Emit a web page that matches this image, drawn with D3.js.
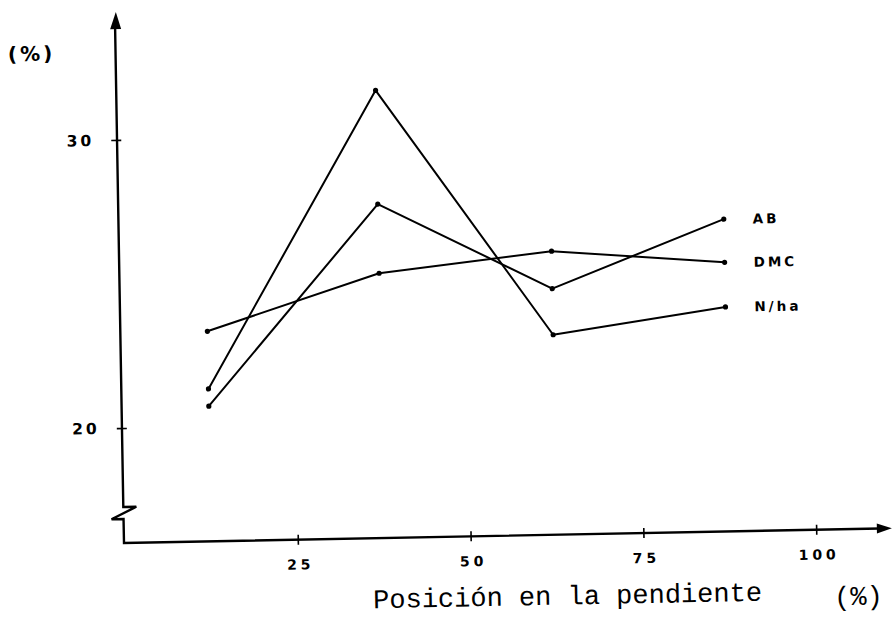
<!DOCTYPE html>
<html>
<head>
<meta charset="utf-8">
<script src="https://cdn.jsdelivr.net/npm/d3@7"></script>
<style>
  html, body { margin: 0; padding: 0; background: #fff; }
  svg { display: block; }
</style>
</head>
<body>
<svg id="chart" width="893" height="620"></svg>
<script>
// ---- data ----
const categories = [12.5, 37.5, 62.5, 87.5];          // posición en la pendiente (%)
const seriesNames = ["AB", "DMC", "N/ha"];
const abValues  = [20.7, 27.6, 24.55, 26.85];
const dmcValues = [23.3, 25.2, 25.85, 25.35];
const nhaValues = [21.3, 31.55, 22.95, 23.8];
const xTickValues = [25, 50, 75, 100];
const yTickValues = [20, 30];
const xTitle = "Posición en la pendiente";
const unitLabel = "(%)";

const series = [
  { name: seriesNames[0], values: abValues },
  { name: seriesNames[1], values: dmcValues },
  { name: seriesNames[2], values: nhaValues }
];

// ---- layout ----
const svg = d3.select("#chart");
const ox = 124, oy = 543;           // axis corner
const g = svg.append("g").attr("transform", `rotate(-1.1, ${ox}, ${oy})`);

const x = d3.scaleLinear().domain([0, 100]).range([125, 816.3]);
const y = d3.scaleLinear().domain([20, 30]).range([428, 139.9]);

const ink = "#000";
const tickFont = "'DejaVu Sans', sans-serif";

// x axis via d3
const xAxis = d3.axisBottom(x).tickValues(xTickValues).tickFormat(d => d).tickSize(5).tickPadding(15);
const gx = g.append("g").attr("transform", `translate(0,${oy})`).call(xAxis);
gx.attr("font-size", null);
gx.select(".domain").remove();
gx.selectAll(".tick line").attr("y1", -5).attr("y2", 5).attr("stroke", ink).attr("stroke-width", 1.6);
gx.selectAll(".tick text")
  .style("font-family", tickFont).style("font-weight", "bold").style("font-size", "14px")
  .attr("letter-spacing", "4px").attr("dx", "2").attr("fill", ink);

// y axis via d3
const yAxis = d3.axisLeft(y).tickValues(yTickValues).tickFormat(d => d).tickSize(5).tickPadding(17);
const gy = g.append("g").attr("transform", `translate(${ox},0)`).call(yAxis);
gy.attr("font-size", null);
gy.select(".domain").remove();
gy.selectAll(".tick line").attr("x1", -5).attr("x2", 5).attr("stroke", ink).attr("stroke-width", 1.6);
gy.selectAll(".tick text")
  .style("font-family", tickFont).style("font-weight", "bold").style("font-size", "15.5px")
  .attr("letter-spacing", "3px").attr("fill", ink);

// axis lines (with break) and arrows
const brk = 507;
g.append("path")
  .attr("d", `M${ox+1},26 L${ox},${brk} L${ox+13},${brk} L${ox-12},${brk+12} L${ox},${brk+12} L${ox},${oy} L880,${oy}`)
  .attr("fill", "none").attr("stroke", ink).attr("stroke-width", 2.4).attr("stroke-linejoin", "miter");
// top arrow
g.append("path").attr("d", `M${ox+2},12 L${ox-4},29 L${ox+7},29 Z`).attr("fill", ink);
// right arrow
g.append("path").attr("d", `M892,${oy} L877,${oy-5} L877,${oy+5} Z`).attr("fill", ink);

// lines
const line = d3.line().x((d, i) => x(categories[i])).y(d => y(d));
series.forEach(s => {
  g.append("path").datum(s.values).attr("d", line)
    .attr("fill", "none").attr("stroke", ink).attr("stroke-width", 2).attr("stroke-linejoin", "round");
  g.selectAll(null).data(s.values).enter().append("circle")
    .attr("cx", (d, i) => x(categories[i])).attr("cy", d => y(d)).attr("r", 2.6).attr("fill", ink);
  const last = s.values[s.values.length - 1];
  g.append("text")
    .attr("x", x(categories[categories.length - 1]) + 29).attr("y", y(last))
    .attr("dominant-baseline", "central")
    .style("font-family", tickFont).style("font-weight", "bold").style("font-size", "13.5px")
    .attr("letter-spacing", "3px").attr("fill", ink)
    .text(s.name);
});

// y unit label
g.append("text").attr("x", 41).attr("y", 52).attr("text-anchor", "middle").attr("dominant-baseline", "central")
  .style("font-family", "'DejaVu Sans', sans-serif").style("font-weight", "bold").style("font-size", "20px")
  .attr("letter-spacing", "3px").attr("fill", ink)
  .text(unitLabel);

// x title
g.append("text").attr("x", 372).attr("y", 613)
  .style("font-family", "'Liberation Mono', 'Courier New', monospace").style("font-size", "27px").attr("fill", ink)
  .text(xTitle);
g.append("text").attr("x", 833).attr("y", 619)
  .style("font-family", "'Liberation Mono', 'Courier New', monospace").style("font-size", "27px")
  .attr("fill", ink)
  .text(unitLabel);
</script>
</body>
</html>
